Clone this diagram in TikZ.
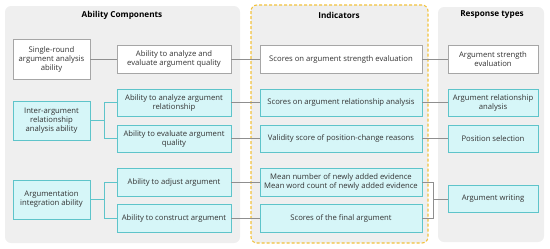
\documentclass[tikz,border=0pt]{standalone}
\usepackage{fontspec}
\setmainfont{Open Sans}
\definecolor{panel}{HTML}{EFEFEF}
\definecolor{cyanfill}{HTML}{D6F6F8}
\definecolor{cyanedge}{HTML}{5EC4CA}
\definecolor{grayedge}{HTML}{A6A6A6}
\definecolor{linegray}{HTML}{8F8F8F}
\definecolor{yel}{HTML}{F2C23C}
\definecolor{txt}{HTML}{333333}
\tikzset{
  panelbox/.style={fill=panel, draw=none, rounded corners=6bp},
  whitebox/.style={draw=grayedge, fill=white, line width=0.8bp, align=center, inner sep=1bp,
     font=\fontsize{7.7bp}{9bp}\selectfont, text=txt},
  cyanbox/.style={draw=cyanedge, fill=cyanfill, line width=0.8bp, align=center, inner sep=1bp,
     font=\fontsize{7.7bp}{9bp}\selectfont, text=txt},
  cone/.style={minimum width=77bp},
  ctwo/.style={minimum width=114bp},
  cthree/.style={minimum width=162bp},
  cfour/.style={minimum width=90bp},
  header/.style={font=\bfseries\fontsize{8.2bp}{10bp}\selectfont, text=black},
  conn/.style={draw=linegray, line width=0.8bp},
  tconn/.style={draw=cyanedge, line width=0.8bp},
}
\begin{document}
\begin{tikzpicture}[x=1bp,y=-1bp]
\useasboundingbox (0,0) rectangle (550,248);
% panels
\fill[panelbox] (5,6) rectangle (240,243);
\filldraw[panelbox, draw=yel, dashed, line width=1.1bp, dash pattern=on 3bp off 2bp] (251,5) rectangle (428,243);
\fill[panelbox] (438,7) rectangle (544,242);
% headers
\node[header] (h1) at (122,15) {Ability Components};
\node[header] (h2) at (339,15) {Indicators};
\node[header] (h3) at (492,15) {Response types};
% column 1
\node[whitebox, cone, minimum height=40bp] (c1a) at (51.5,59) {Single-round\\argument analysis\\ability};
\node[cyanbox, cone, minimum height=39bp] (c1b) at (51.5,120.5) {Inter-argument\\relationship\\analysis ability};
\node[cyanbox, cone, minimum height=39bp] (c1c) at (51.5,199.5) {Argumentation\\integration ability};
% column 2
\node[whitebox, ctwo, minimum height=28bp] (c2a) at (174,59) {Ability to analyze and\\evaluate argument quality};
\node[cyanbox, ctwo, minimum height=27bp] (c2b) at (174,102.5) {Ability to analyze argument\\relationship};
\node[cyanbox, ctwo, minimum height=27bp] (c2c) at (174,138.5) {Ability to evaluate argument\\quality};
\node[cyanbox, ctwo, minimum height=28bp] (c2d) at (174,182) {Ability to adjust argument};
\node[cyanbox, ctwo, minimum height=28bp] (c2e) at (174,218) {Ability to construct argument};
% column 3
\node[whitebox, cthree, minimum height=28bp] (c3a) at (341,59) {Scores on argument strength evaluation};
\node[cyanbox, cthree, minimum height=27bp] (c3b) at (341,102.5) {Scores on argument relationship analysis};
\node[cyanbox, cthree, minimum height=27bp] (c3c) at (341,138.5) {Validity score of position-change reasons};
\node[cyanbox, cthree, minimum height=28bp] (c3d) at (341,182) {Mean number of newly added evidence\\Mean word count of newly added evidence};
\node[cyanbox, cthree, minimum height=28bp] (c3e) at (341,218) {Scores of the final argument};
% column 4
\node[whitebox, cfour, minimum height=28bp] (c4a) at (493,59) {Argument strength\\evaluation};
\node[cyanbox, cfour, minimum height=27bp] (c4b) at (493,102.5) {Argument relationship\\analysis};
\node[cyanbox, cfour, minimum height=27bp] (c4c) at (493,138.5) {Position selection};
\node[cyanbox, cfour, minimum height=27bp] (c4d) at (493,199) {Argument writing};
% junctions
\coordinate (j1) at (104,120.5);
\coordinate (j2) at (104,199.5);
\coordinate (j3) at (433,199);
% connectors col1 -> col2
\draw[conn] (c1a.east) -- (c2a.west);
\draw[tconn] (c1b.east) -- (j1);
\draw[tconn] (j1) |- (c2b.west);
\draw[tconn] (j1) |- (c2c.west);
\draw[tconn] (c1c.east) -- (j2);
\draw[tconn] (j2) |- (c2d.west);
\draw[tconn] (j2) |- (c2e.west);
% col2 -> col3
\draw[conn] (c2a.east) -- (c3a.west);
\draw[conn] (c2b.east) -- (c3b.west);
\draw[conn] (c2c.east) -- (c3c.west);
\draw[conn] (c2d.east) -- (c3d.west);
\draw[conn] (c2e.east) -- (c3e.west);
% col3 -> col4
\draw[conn] (c3a.east) -- (c4a.west);
\draw[conn] (c3b.east) -- (c4b.west);
\draw[conn] (c3c.east) -- (c4c.west);
\draw[conn] (c3d.east) -| (j3);
\draw[conn] (c3e.east) -| (j3);
\draw[conn] (j3) -- (c4d.west);
\end{tikzpicture}
\end{document}
